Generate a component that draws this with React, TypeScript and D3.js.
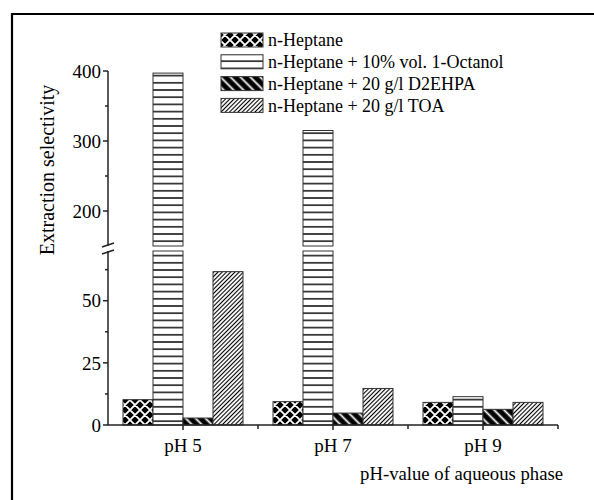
import React from "react";
import { scaleBand, scaleLinear } from "d3";

const categories = ["pH 5", "pH 7", "pH 9"];
const seriesNames = [
  "n-Heptane",
  "n-Heptane + 10% vol. 1-Octanol",
  "n-Heptane + 20 g/l D2EHPA",
  "n-Heptane + 20 g/l TOA",
];
const heptane = [10.2, 9.4, 9.1];
const octanol = [397, 315, 11.4];
const d2ehpa = [2.8, 4.8, 6.3];
const toa = [61.7, 14.7, 9.1];
const lowerTicks = [0, 25, 50];
const lowerMinor = [12.5, 37.5, 62.5];
const upperTicks = [200, 300, 400];
const upperMinor = [250, 350];

const patternIds = ["pCross", "pHoriz", "pBack", "pFwd"];
const font = "'Liberation Serif', 'Times New Roman', serif";

export default function App() {
  const W = 594;
  const H = 500;
  const series = [heptane, octanol, d2ehpa, toa];

  // achse mit bruch: unten 0-70, oben 150-400
  const yLow = scaleLinear().domain([0, 70]).range([425, 251]);
  const yUp = scaleLinear().domain([150, 400]).range([246, 71]);
  const x = scaleBand().domain(categories).range([108, 558]);
  const xIn = scaleBand()
    .domain(seriesNames)
    .range([0, x.bandwidth()])
    .paddingOuter(0.5);

  const axisX = 108;
  const stroke = "#222";

  const bars: any[] = [];
  categories.forEach((c, ci) => {
    series.forEach((s, si) => {
      const v = s[ci];
      const bx = (x(c) as number) + (xIn(seriesNames[si]) as number);
      const bw = xIn.bandwidth();
      const fill = `url(#${patternIds[si]})`;
      if (v <= 70) {
        bars.push(
          <rect key={`${ci}-${si}`} x={bx} y={yLow(v)} width={bw}
            height={yLow(0) - yLow(v)} fill={fill} stroke="#333" strokeWidth={1} />
        );
      } else {
        bars.push(
          <rect key={`${ci}-${si}-a`} x={bx} y={yLow(70)} width={bw}
            height={yLow(0) - yLow(70)} fill={fill} stroke="#333" strokeWidth={1} />
        );
        bars.push(
          <rect key={`${ci}-${si}-b`} x={bx} y={yUp(v)} width={bw}
            height={yUp(150) - yUp(v)} fill={fill} stroke="#333" strokeWidth={1} />
        );
      }
    });
  });

  const legendY = (i: number) => 40 + i * 21.8;

  return (
    <svg width={W} height={H} style={{ position: "absolute", left: 0, top: 0 }}
      fontFamily={font}>
      <defs>
        <pattern id="pCross" patternUnits="userSpaceOnUse" width={10} height={10}>
          <rect width={10} height={10} fill="#000" />
          <path d="M0,0L10,10M10,0L0,10M-1,9L1,11M9,-1L11,1M-1,1L1,-1M9,11L11,9"
            stroke="#fff" strokeWidth={1.8} />
        </pattern>
        <pattern id="pHoriz" patternUnits="userSpaceOnUse" width={10} height={7.2}>
          <rect width={10} height={7.2} fill="#fff" />
          <line x1={0} x2={10} y1={3.6} y2={3.6} stroke="#000" strokeWidth={1.4} />
        </pattern>
        <pattern id="pBack" patternUnits="userSpaceOnUse" width={7} height={10}
          patternTransform="rotate(-45)">
          <rect width={7} height={10} fill="#000" />
          <line x1={3.5} x2={3.5} y1={0} y2={10} stroke="#fff" strokeWidth={1.8} />
        </pattern>
        <pattern id="pFwd" patternUnits="userSpaceOnUse" width={3} height={10}
          patternTransform="rotate(45)">
          <rect width={3} height={10} fill="#fff" />
          <line x1={1.5} x2={1.5} y1={0} y2={10} stroke="#000" strokeWidth={1.1} />
        </pattern>
      </defs>

      <path d={`M12,${H}V14H${W}`} fill="none" stroke="#000" strokeWidth={2.2} />

      {bars}

      {/* y-achse oben */}
      <line x1={axisX} x2={axisX} y1={yUp(400)} y2={yUp(150)} stroke={stroke} strokeWidth={1.5} />
      {upperTicks.map((t) => (
        <g key={t}>
          <line x1={axisX - 5} x2={axisX} y1={yUp(t)} y2={yUp(t)} stroke={stroke} strokeWidth={1.5} />
          <text x={axisX - 7} y={yUp(t)} dy="0.35em" textAnchor="end" fontSize={19} fontFamily={font}>{t}</text>
        </g>
      ))}
      {upperMinor.map((t) => (
        <line key={t} x1={axisX - 3} x2={axisX} y1={yUp(t)} y2={yUp(t)} stroke={stroke} strokeWidth={1.5} />
      ))}

      {/* y-achse unten */}
      <line x1={axisX} x2={axisX} y1={yLow(70)} y2={yLow(0)} stroke={stroke} strokeWidth={1.5} />
      {lowerTicks.map((t) => (
        <g key={t}>
          <line x1={axisX - 5} x2={axisX} y1={yLow(t)} y2={yLow(t)} stroke={stroke} strokeWidth={1.5} />
          <text x={axisX - 7} y={yLow(t)} dy="0.35em" textAnchor="end" fontSize={19} fontFamily={font}>{t}</text>
        </g>
      ))}
      {lowerMinor.map((t) => (
        <line key={t} x1={axisX - 3} x2={axisX} y1={yLow(t)} y2={yLow(t)} stroke={stroke} strokeWidth={1.5} />
      ))}

      {/* bruchzeichen */}
      <line x1={axisX - 6} x2={axisX + 6} y1={yUp(150) + 1} y2={yUp(150) - 3} stroke={stroke} strokeWidth={1.5} />
      <line x1={axisX - 6} x2={axisX + 6} y1={yLow(70) + 3} y2={yLow(70) - 1} stroke={stroke} strokeWidth={1.5} />

      {/* x-achse */}
      <line x1={axisX} x2={558} y1={yLow(0)} y2={yLow(0)} stroke={stroke} strokeWidth={1.5} />
      {categories.map((c) => {
        const cx = (x(c) as number) + x.bandwidth() / 2;
        return (
          <g key={c}>
            <line x1={cx} x2={cx} y1={yLow(0)} y2={yLow(0) + 5} stroke={stroke} strokeWidth={1.5} />
            <line x1={(x(c) as number) + x.bandwidth()} x2={(x(c) as number) + x.bandwidth()}
              y1={yLow(0)} y2={yLow(0) + 4} stroke={stroke} strokeWidth={1.5} />
            <text x={cx} y={452} textAnchor="middle" fontSize={19} fontFamily={font}>{c}</text>
          </g>
        );
      })}

      <text x={563} y={480} textAnchor="end" fontSize={18.7} fontFamily={font}>pH-value of aqueous phase</text>
      <text transform="translate(54,170) rotate(-90)" textAnchor="middle" fontSize={20} fontFamily={font}>
        Extraction selectivity
      </text>

      {seriesNames.map((n, i) => (
        <g key={n}>
          <rect x={221} y={legendY(i) - 7} width={42} height={14}
            fill={`url(#${patternIds[i]})`} stroke="#333" strokeWidth={1} />
          <text x={268} y={legendY(i)} dy="0.35em" fontSize={18} fontFamily={font}>{n}</text>
        </g>
      ))}
    </svg>
  );
}
